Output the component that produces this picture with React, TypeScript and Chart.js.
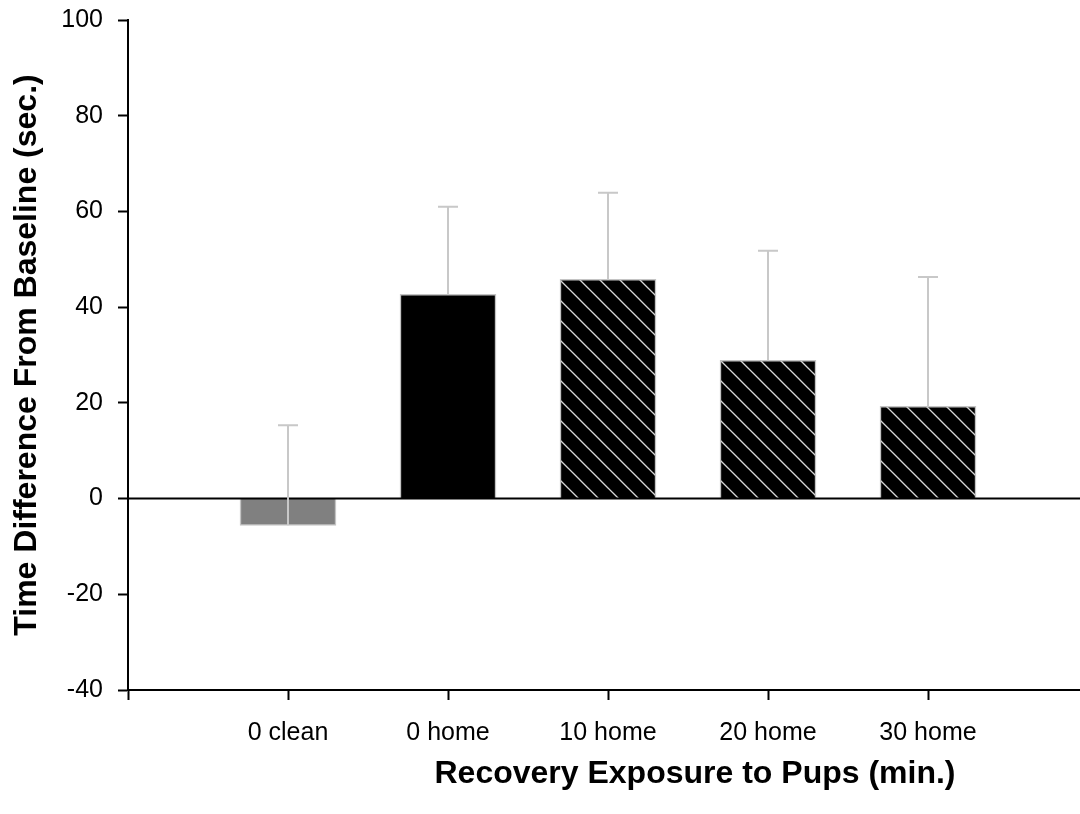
import React, { useEffect, useRef } from "react";
import { Chart, registerables } from "chart.js";

Chart.register(...registerables);

const categories: string[] = ["0 clean", "0 home", "10 home", "20 home", "30 home"];
const means: number[] = [-5.6, 42.7, 45.8, 28.9, 19.3];
const errors: number[] = [20.9, 18.3, 18.1, 22.9, 27.0];
const fillKinds: string[] = ["gray", "solid", "hatch", "hatch", "hatch"];
const yTicks: number[] = [-40, -20, 0, 20, 40, 60, 80, 100];

const FONT = "'Liberation Sans', Arial, Helvetica, sans-serif";
const Y_TITLE = "Time Difference From Baseline (sec.)";
const X_TITLE = "Recovery Exposure to Pups (min.)";

function makeHatch(): CanvasPattern | string {
  const s = 20;
  const c = document.createElement("canvas");
  c.width = s;
  c.height = s;
  const g = c.getContext("2d");
  if (!g) return "#000";
  g.fillStyle = "#000";
  g.fillRect(0, 0, s, s);
  g.strokeStyle = "#d6d6d6";
  g.lineWidth = 1.3;
  const offs = [-s, 0, s];
  for (const o of offs) {
    g.beginPath();
    g.moveTo(-2 + o, -2);
    g.lineTo(s + 2 + o, s + 2);
    g.stroke();
  }
  const p = g.createPattern(c, "repeat");
  return p || "#000";
}

export default function App() {
  const ref = useRef<HTMLCanvasElement | null>(null);

  useEffect(() => {
    if (!ref.current) return;
    const hatch = makeHatch();
    const colors = fillKinds.map((k) => (k === "gray" ? "#808080" : k === "solid" ? "#000000" : hatch));

    const overlay = {
      id: "overlay",
      afterDatasetsDraw(chart: any) {
        const { ctx, chartArea, scales } = chart;
        const xs = scales.x;
        const ys = scales.y;
        ctx.save();
        const y0 = ys.getPixelForValue(0);
        ctx.strokeStyle = "#000";
        ctx.lineWidth = 2;
        ctx.beginPath();
        ctx.moveTo(chartArea.left, y0);
        ctx.lineTo(chartArea.right, y0);
        ctx.stroke();
        ctx.strokeStyle = "#c8c8c8";
        ctx.lineWidth = 2;
        means.forEach((m, i) => {
          const x = xs.getPixelForValue(i + 1);
          const ya = ys.getPixelForValue(m);
          const yb = ys.getPixelForValue(m + errors[i]);
          ctx.beginPath();
          ctx.moveTo(x, ya);
          ctx.lineTo(x, yb);
          ctx.moveTo(x - 10, yb);
          ctx.lineTo(x + 10, yb);
          ctx.stroke();
        });
        ctx.restore();
      },
      afterDraw(chart: any) {
        const { ctx } = chart;
        ctx.save();
        ctx.font = `bold 32px ${FONT}`;
        ctx.fillStyle = "#000";
        ctx.textAlign = "center";
        ctx.textBaseline = "middle";
        ctx.fillText(X_TITLE, 695, 774);
        ctx.restore();
      },
    };

    const chart = new Chart(ref.current, {
      type: "bar",
      data: {
        datasets: [
          {
            data: categories.map((c, i) => ({ x: i + 1, y: means[i] })) as any,
            backgroundColor: colors as any,
            borderColor: "#c4c4c4",
            borderWidth: 1.5,
            barThickness: 96,
          },
        ],
      },
      options: {
        responsive: false,
        animation: false,
        layout: { padding: { top: 20, right: 0, left: 0, bottom: 0 } },
        plugins: {
          legend: { display: false },
          tooltip: { enabled: false },
        },
        scales: {
          x: {
            type: "linear",
            min: 0,
            max: 5.95,
            offset: false,
            afterBuildTicks(scale: any) {
              scale.ticks = [0, 1, 2, 3, 4, 5].map((v) => ({ value: v }));
            },
            afterFit(scale: any) {
              scale.height = 124;
              scale.paddingLeft = 0;
              scale.paddingRight = 0;
            },
            ticks: {
              autoSkip: false,
              maxRotation: 0,
              padding: 18,
              color: "#000",
              font: { family: FONT, size: 25 },
              callback: (v: any) => (v >= 1 && v <= categories.length ? categories[v - 1] : ""),
            },
            grid: {
              offset: false,
              drawOnChartArea: false,
              tickLength: 10,
              tickColor: "#000",
              tickWidth: 2,
            },
            border: { color: "#000", width: 2 },
          },
          y: {
            type: "linear",
            min: -40,
            max: 100,
            afterBuildTicks(scale: any) {
              scale.ticks = yTicks.map((v) => ({ value: v }));
            },
            afterFit(scale: any) {
              scale.width = 128;
              scale.paddingTop = 0;
              scale.paddingBottom = 0;
            },
            ticks: {
              padding: 15,
              color: "#000",
              font: { family: FONT, size: 25 },
            },
            grid: {
              drawOnChartArea: false,
              tickLength: 10,
              tickColor: "#000",
              tickWidth: 2,
            },
            border: { color: "#000", width: 2 },
            title: {
              display: true,
              text: Y_TITLE,
              color: "#000",
              font: { family: FONT, size: 32, weight: "bold" },
              padding: { top: 8, bottom: 0 },
            },
          },
        },
      },
      plugins: [overlay],
    } as any);

    return () => chart.destroy();
  }, []);

  return (
    <div style={{ position: "fixed", left: 0, top: 0, width: 1080, height: 814, background: "#fff" }}>
      <canvas ref={ref} width={1080} height={814} style={{ display: "block" }} />
    </div>
  );
}
